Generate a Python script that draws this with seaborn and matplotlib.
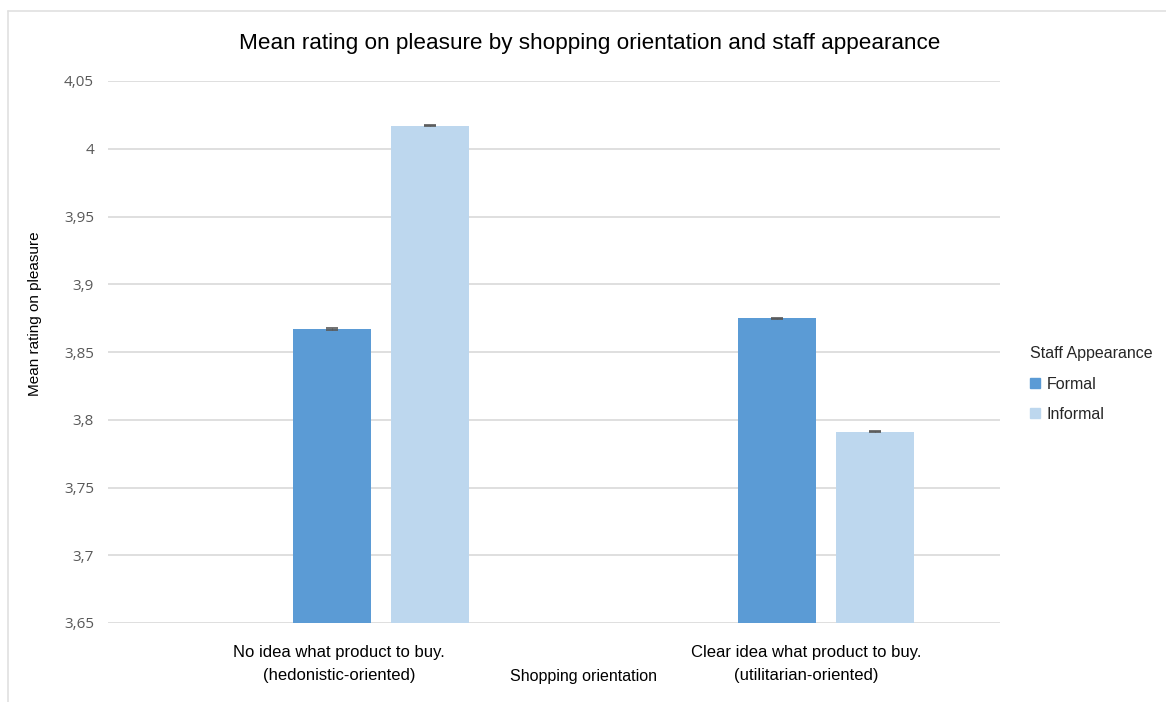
import matplotlib
matplotlib.use("Agg")
import matplotlib.pyplot as plt
from matplotlib.lines import Line2D
import seaborn as sns
import pandas as pd

orientation = ["No idea what product to buy.\n(hedonistic-oriented)",
               "Clear idea what product to buy.\n(utilitarian-oriented)"]
appearance = ["Formal", "Informal"]
formal_vals = [3.867, 3.875]
informal_vals = [4.017, 3.791]
err = [0.0004, 0.0004, 0.0004, 0.0004]
yticks = [3.65, 3.7, 3.75, 3.8, 3.85, 3.9, 3.95, 4.0, 4.05]
ytick_labels = ["3,65", "3,7", "3,75", "3,8", "3,85", "3,9", "3,95", "4", "4,05"]

df = pd.DataFrame({
    "orientation": orientation * 2,
    "appearance": [appearance[0]] * 2 + [appearance[1]] * 2,
    "value": formal_vals + informal_vals,
})

sns.set_theme(style="white")
plt.rcParams["font.family"] = ["Liberation Sans", "DejaVu Sans"]

fig = plt.figure(figsize=(11.66, 7.02), dpi=100)
ax = fig.add_axes([108 / 1166, 1 - 623 / 702, (1000 - 108) / 1166, (623 - 81) / 702])

palette = {"Formal": "#5B9BD5", "Informal": "#BDD7EE"}
sns.barplot(data=df, x="orientation", y="value", hue="appearance",
            order=orientation, hue_order=appearance, palette=palette,
            width=0.44, gap=0.2, errorbar=None, saturation=1, ax=ax,
            edgecolor="none", zorder=2, legend=False)

# tiny error bars on top of each bar
for p, e in zip(ax.patches[:4], err):
    cx = p.get_x() + p.get_width() / 2
    top = p.get_height() + p.get_y()
    ax.errorbar(cx, top, yerr=e, color="#595959", capsize=4, elinewidth=0.8,
                capthick=1.2, zorder=3)

ax.set_ylim(3.65, 4.05)
ax.set_xlim(-0.613, 1.391)
ax.set_yticks(yticks)
ax.set_yticklabels(ytick_labels, family=["Open Sans", "DejaVu Sans"], fontsize=11, color="#595959")
ax.yaxis.grid(True, color="#D9D9D9", linewidth=1.2, zorder=0)
ax.set_axisbelow(True)
for s in ax.spines.values():
    s.set_visible(False)
ax.tick_params(axis="y", length=0, pad=10)
ax.set_xticks([])
ax.set_xlabel("")
ax.set_ylabel("")

# category labels
cat_x = [339, 806]
for lab, xp in zip(orientation, cat_x):
    fig.text(xp / 1166, 1 - 664 / 702, lab, ha="center", va="center",
             fontsize=12, color="black", linespacing=1.6)

fig.text(583 / 1166, 1 - 677 / 702, "Shopping orientation", ha="center", va="center",
         fontsize=11.5, color="black")
fig.text(35 / 1166, 1 - 314 / 702, "Mean rating on pleasure", ha="center", va="center",
         rotation=90, fontsize=11, color="black")
fig.text(590 / 1166, 1 - 43 / 702,
         "Mean rating on pleasure by shopping orientation and staff appearance",
         ha="center", va="center", fontsize=16.2, color="black")

# legend
leg_handles = [plt.Rectangle((0, 0), 1, 1, color=palette[a]) for a in appearance]
fig.legend(leg_handles, appearance, title="Staff Appearance",
           loc="upper left", bbox_to_anchor=(1016 / 1166, 1 - 332 / 702),
           frameon=False, fontsize=11.5, title_fontsize=11.5,
           handlelength=0.6, handleheight=0.6, handletextpad=0.4,
           labelspacing=0.95, alignment="left")

# screenshot border lines
fig.add_artist(Line2D([8 / 1166, 8 / 1166], [0, 1 - 11 / 702], color="#E0E0E0", lw=1.2,
                      transform=fig.transFigure))
fig.add_artist(Line2D([8 / 1166, 1], [1 - 11 / 702, 1 - 11 / 702], color="#E0E0E0", lw=1.2,
                      transform=fig.transFigure))

fig.savefig("out.png", dpi=100)
